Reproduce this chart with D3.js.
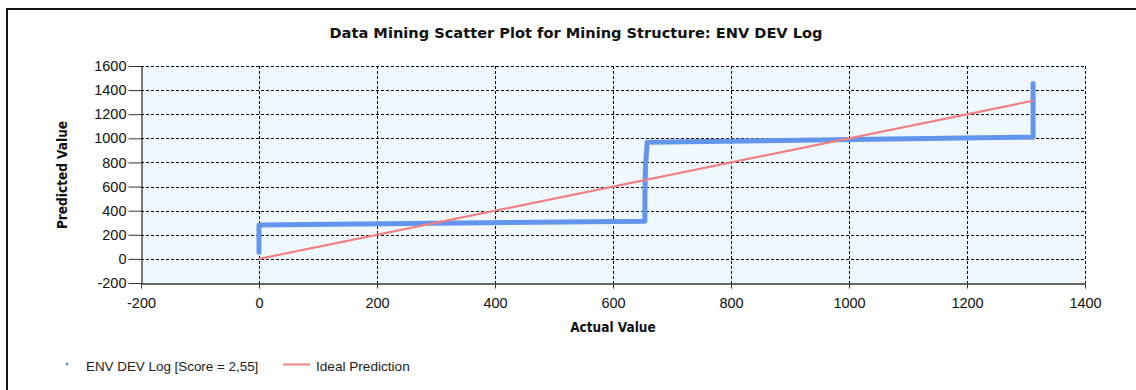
<!DOCTYPE html>
<html>
<head>
<meta charset="utf-8">
<script src="https://cdn.jsdelivr.net/npm/d3@7"></script>
<style>
  body { margin: 0; background: #fff; }
  text { font-family: "Liberation Sans", Arial, sans-serif; }
</style>
</head>
<body>
<div id="chart-container"></div>
<script>
/**************************************************
 * Chart data
 **************************************************/
const chartTitle = "Data Mining Scatter Plot for Mining Structure: ENV DEV Log";
const seriesName = "ENV DEV Log [Score = 2,55]";
const idealName = "Ideal Prediction";

// model predictions (step shaped)
const actualValues    = [0,  0,   0,   654, 654, 655, 658, 1312, 1312];
const predictedValues = [55, 200, 282, 312, 500, 760, 968, 1010, 1455];

// ideal prediction line
const idealActual    = [0, 1312];
const idealPredicted = [0, 1312];

const xTicks = [-200, 0, 200, 400, 600, 800, 1000, 1200, 1400];
const yTicks = [-200, 0, 200, 400, 600, 800, 1000, 1200, 1400, 1600];

/**************************************************
 * Rendering
 **************************************************/
const width = 1136, height = 390;
const plotLeft = 141, plotRight = 1085, plotTop = 66, plotBottom = 283;

const svg = d3.select("#chart-container")
  .append("svg")
  .attr("width", width)
  .attr("height", height);

// outer frame (only left and top show)
svg.append("line").attr("x1", 7).attr("x2", 7).attr("y1", 9).attr("y2", height)
  .attr("stroke", "#111").attr("stroke-width", 2);
svg.append("line").attr("x1", 6).attr("x2", width).attr("y1", 9).attr("y2", 9)
  .attr("stroke", "#111").attr("stroke-width", 2);

const xScale = d3.scaleLinear().domain([-200, 1400]).range([plotLeft, plotRight]);
const yScale = d3.scaleLinear().domain([-200, 1600]).range([plotBottom, plotTop]);

// plot background
svg.append("rect")
  .attr("x", plotLeft).attr("y", plotTop)
  .attr("width", plotRight - plotLeft).attr("height", plotBottom - plotTop)
  .attr("fill", "#F0F8FF");

// dashed grid
svg.append("g").selectAll("line.vgrid")
  .data(xTicks.filter(d => d > -200))
  .enter().append("line")
  .attr("x1", d => Math.round(xScale(d)) + 0.5)
  .attr("x2", d => Math.round(xScale(d)) + 0.5)
  .attr("y1", plotTop).attr("y2", plotBottom)
  .attr("stroke", "#000").attr("stroke-width", 1)
  .attr("stroke-dasharray", "3,2");

svg.append("g").selectAll("line.hgrid")
  .data(yTicks.filter(d => d > -200))
  .enter().append("line")
  .attr("x1", plotLeft).attr("x2", plotRight)
  .attr("y1", d => Math.round(yScale(d)) + 0.5)
  .attr("y2", d => Math.round(yScale(d)) + 0.5)
  .attr("stroke", "#000").attr("stroke-width", 1)
  .attr("stroke-dasharray", "3,2");

// axes (plain hyphen minus, no thousands separator)
const plainFormat = d => String(d);
const xAxis = d3.axisBottom(xScale).tickValues(xTicks).tickFormat(plainFormat)
  .tickSize(5).tickSizeOuter(0).tickPadding(9);
const yAxis = d3.axisLeft(yScale).tickValues(yTicks).tickFormat(plainFormat)
  .tickSize(13).tickSizeOuter(0).tickPadding(2);

const gx = svg.append("g")
  .attr("transform", `translate(0,${plotBottom + 0.5})`)
  .call(xAxis);
const gy = svg.append("g")
  .attr("transform", `translate(${plotLeft + 0.5},0)`)
  .call(yAxis);

[gx, gy].forEach(g => {
  g.attr("font-size", null).attr("font-family", null);
  g.select(".domain").attr("stroke", "#333").attr("stroke-width", 1.3);
  g.selectAll(".tick line").attr("stroke", "#333");
  g.selectAll(".tick text")
    .attr("fill", "#111")
    .style("font-size", "14.5px")
    .style("font-family", "'Liberation Sans', Arial, sans-serif");
});

const line = d3.line().x(d => xScale(d.x)).y(d => yScale(d.y));

// model series
const seriesData = actualValues.map((x, i) => ({ x: x, y: predictedValues[i] }));
svg.append("path")
  .datum(seriesData)
  .attr("d", line)
  .attr("fill", "none")
  .attr("stroke", "#6495ED")
  .attr("stroke-width", 5)
  .attr("stroke-linejoin", "round")
  .attr("stroke-linecap", "round");

// ideal prediction line
const idealData = idealActual.map((x, i) => ({ x: x, y: idealPredicted[i] }));
svg.append("path")
  .datum(idealData)
  .attr("d", line)
  .attr("fill", "none")
  .attr("stroke", "#F08080")
  .attr("stroke-width", 2.2);

// title
svg.append("text")
  .attr("x", 576).attr("y", 38)
  .attr("text-anchor", "middle")
  .style("font-size", "14.6px")
  .style("font-family", "'DejaVu Sans', sans-serif")
  .attr("font-weight", "bold")
  .attr("fill", "#111")
  .text(chartTitle);

// axis labels
svg.append("text")
  .attr("x", 613).attr("y", 332)
  .attr("text-anchor", "middle")
  .style("font-size", "13.5px")
  .attr("font-weight", "bold")
  .style("font-family", "'DejaVu Sans Condensed', 'DejaVu Sans', sans-serif")
  .attr("fill", "#111")
  .text("Actual Value");

svg.append("text")
  .attr("transform", "rotate(-90)")
  .attr("x", -175).attr("y", 67)
  .attr("text-anchor", "middle")
  .style("font-size", "13.5px")
  .attr("font-weight", "bold")
  .style("font-family", "'DejaVu Sans Condensed', 'DejaVu Sans', sans-serif")
  .attr("fill", "#111")
  .text("Predicted Value");

// legend
const legend = svg.append("g").attr("transform", "translate(0,366)");
legend.append("circle")
  .attr("cx", 67).attr("cy", -2).attr("r", 1.6)
  .attr("fill", "#6495ED");
legend.append("text")
  .attr("x", 86).attr("y", 5)
  .style("font-size", "13.4px")
  .attr("fill", "#222")
  .text(seriesName);
legend.append("line")
  .attr("x1", 283).attr("x2", 310)
  .attr("y1", -1.5).attr("y2", -1.5)
  .attr("stroke", "#F08080").attr("stroke-width", 2);
legend.append("text")
  .attr("x", 316).attr("y", 5)
  .style("font-size", "13.6px")
  .attr("fill", "#222")
  .text(idealName);
</script>
</body>
</html>
